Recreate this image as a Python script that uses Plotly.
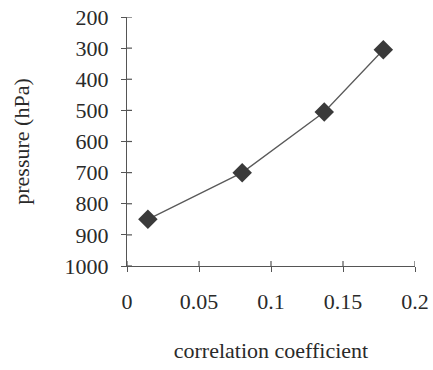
import plotly.graph_objects as go

corr = [0.0145, 0.08, 0.137, 0.178]
pressure = [850, 700, 505, 305]
x_ticks = [0, 0.05, 0.1, 0.15, 0.2]
x_tick_text = ["0", "0.05", "0.1", "0.15", "0.2"]
y_ticks = [200, 300, 400, 500, 600, 700, 800, 900, 1000]

FONT = "Liberation Serif, Times New Roman, serif"
TXT = "#2a2a2a"
AX = "#555555"
X_RANGE = [0, 0.2]
Y_RANGE = [1000, 200]

fig = go.Figure()
fig.add_trace(go.Scatter(
    x=corr, y=pressure, mode="lines+markers",
    line=dict(color="#5a5a5a", width=1.3),
    marker=dict(symbol="diamond", size=15, color="#3a3a3a"),
    showlegend=False,
))

# inside halves of the crossing tick marks (pixel-sized, anchored at the ticks)
for v in x_ticks:
    fig.add_shape(type="line", xref="x", yref="y", ysizemode="pixel",
                  yanchor=Y_RANGE[0], x0=v, x1=v, y0=0, y1=5,
                  line=dict(color=AX, width=1.2), layer="above")
for v in y_ticks:
    fig.add_shape(type="line", xref="x", yref="y", xsizemode="pixel",
                  xanchor=X_RANGE[0], x0=0, x1=5, y0=v, y1=v,
                  line=dict(color=AX, width=1.2), layer="above")

common = dict(showgrid=False, zeroline=False, showline=True,
              linecolor=AX, linewidth=1.2, tickcolor=AX, tickwidth=1.2,
              ticklen=5, automargin=False)
fig.update_layout(
    width=433, height=370,
    margin=dict(l=127, r=18, t=17, b=104),
    paper_bgcolor="white", plot_bgcolor="white",
    font=dict(family=FONT, size=22, color=TXT),
    xaxis=dict(range=X_RANGE, tickvals=x_ticks, ticktext=x_tick_text,
               ticks="outside", ticklabelstandoff=10,
               title=dict(text="correlation coefficient", standoff=30,
                          font=dict(size=22)), **common),
    yaxis=dict(range=Y_RANGE, tickvals=y_ticks, ticks="outside",
               ticklabelstandoff=8,
               title=dict(text="pressure (hPa)", standoff=28,
                          font=dict(size=22)), **common),
)
fig.write_html("out.html")
